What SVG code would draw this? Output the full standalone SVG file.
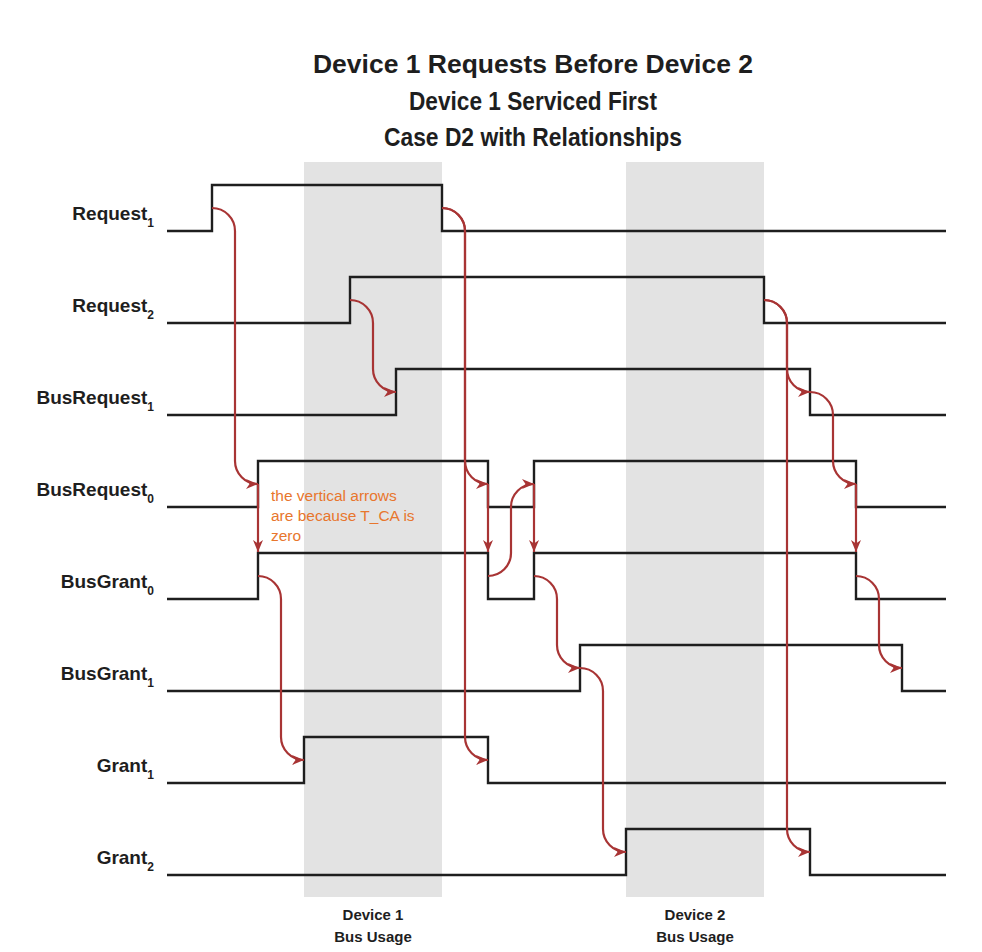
<svg xmlns="http://www.w3.org/2000/svg" width="982" height="952" viewBox="0 0 982 952">
  <defs>
    <marker id="ah" markerUnits="userSpaceOnUse" markerWidth="13" markerHeight="11" refX="12" refY="5" orient="auto">
      <path d="M0,0 L12,5 L0,10 L3.5,5 Z" fill="#a83434"/>
    </marker>
    <style>
      .shade { fill: #e3e3e3; }
      .sig { fill: none; stroke: #1e1e1e; stroke-width: 2.4; stroke-linejoin: miter; }
      .arr { fill: none; stroke: #a83434; stroke-width: 2.2; marker-end: url(#ah); }
      .title { font-family: "Liberation Sans", Arial, sans-serif; font-weight: bold; font-size: 26px; fill: #1e1e1e; text-anchor: middle; }
      .lbl { font-family: "Liberation Sans", Arial, sans-serif; font-weight: bold; font-size: 19px; fill: #1e1e1e; text-anchor: end; }
      .sub { font-size: 12px; }
      .usage { font-family: "Liberation Sans", Arial, sans-serif; font-weight: bold; font-size: 15px; fill: #1e1e1e; text-anchor: middle; }
      .note { font-family: "Liberation Sans", Arial, sans-serif; font-size: 15.5px; fill: #e8762d; }
    </style>
  </defs>

  <rect width="982" height="952" fill="#ffffff"/>

  <g id="title">
    <text class="title" x="533" y="73" textLength="440" lengthAdjust="spacingAndGlyphs">Device 1 Requests Before Device 2</text>
    <text class="title" x="533" y="110" textLength="248" lengthAdjust="spacingAndGlyphs">Device 1 Serviced First</text>
    <text class="title" x="533" y="146" textLength="298" lengthAdjust="spacingAndGlyphs">Case D2 with Relationships</text>
  </g>

  <g id="bus-usage">
    <rect class="shade" x="304" y="162" width="138" height="735"/>
    <rect class="shade" x="626" y="162" width="138" height="735"/>
    <text class="usage" x="373" y="920">Device 1</text>
    <text class="usage" x="373" y="942">Bus Usage</text>
    <text class="usage" x="695" y="920">Device 2</text>
    <text class="usage" x="695" y="942">Bus Usage</text>
  </g>

  <g id="request1">
    <text class="lbl" x="154" y="220">Request<tspan class="sub" dy="7">1</tspan></text>
    <path class="sig" d="M167,231 H212 V185 H442 V231 H946"/>
  </g>
  <g id="request2">
    <text class="lbl" x="154" y="312">Request<tspan class="sub" dy="7">2</tspan></text>
    <path class="sig" d="M167,323 H350 V277 H764 V323 H946"/>
  </g>
  <g id="busrequest1">
    <text class="lbl" x="154" y="404">BusRequest<tspan class="sub" dy="7">1</tspan></text>
    <path class="sig" d="M167,415 H396 V369 H810 V415 H946"/>
  </g>
  <g id="busrequest0">
    <text class="lbl" x="154" y="496">BusRequest<tspan class="sub" dy="7">0</tspan></text>
    <path class="sig" d="M167,507 H258 V461 H488 V507 H534 V461 H856 V507 H946"/>
  </g>
  <g id="busgrant0">
    <text class="lbl" x="154" y="588">BusGrant<tspan class="sub" dy="7">0</tspan></text>
    <path class="sig" d="M167,599 H258 V553 H488 V599 H534 V553 H856 V599 H946"/>
  </g>
  <g id="busgrant1">
    <text class="lbl" x="154" y="680">BusGrant<tspan class="sub" dy="7">1</tspan></text>
    <path class="sig" d="M167,691 H580 V645 H902 V691 H946"/>
  </g>
  <g id="grant1">
    <text class="lbl" x="154" y="772">Grant<tspan class="sub" dy="7">1</tspan></text>
    <path class="sig" d="M167,783 H304 V737 H488 V783 H946"/>
  </g>
  <g id="grant2">
    <text class="lbl" x="154" y="864">Grant<tspan class="sub" dy="7">2</tspan></text>
    <path class="sig" d="M167,875 H626 V829 H810 V875 H946"/>
  </g>

  <g id="connectors">
    <path class="arr" d="M212,208 A23,23 0 0 1 235,231 V461 A23,23 0 0 0 258,484"/>
    <path class="arr" d="M442,208 A23,23 0 0 1 465,231 V461 A23,23 0 0 0 488,484"/>
    <path class="arr" d="M442,208 A23,23 0 0 1 465,231 V737 A23,23 0 0 0 488,760"/>
    <path class="arr" d="M350,300 A23,23 0 0 1 373,323 V369 A23,23 0 0 0 396,392"/>
    <path class="arr" d="M764,300 A23,23 0 0 1 787,323 V369 A23,23 0 0 0 810,392"/>
    <path class="arr" d="M764,300 A23,23 0 0 1 787,323 V829 A23,23 0 0 0 810,852"/>
    <path class="arr" d="M810,392 A23,23 0 0 1 833,415 V461 A23,23 0 0 0 856,484"/>
    <path class="arr" d="M856,484 V552"/>
    <path class="arr" d="M856,576 A23,23 0 0 1 879,599 V645 A23,23 0 0 0 902,668"/>
    <path class="arr" d="M258,484 V552"/>
    <path class="arr" d="M258,576 A23,23 0 0 1 281,599 V737 A23,23 0 0 0 304,760"/>
    <path class="arr" d="M488,484 V552"/>
    <path class="arr" d="M488,576 A23,23 0 0 0 511,553 V507 A23,23 0 0 1 534,484"/>
    <path class="arr" d="M534,484 V552"/>
    <path class="arr" d="M534,576 A23,23 0 0 1 557,599 V645 A23,23 0 0 0 580,668"/>
    <path class="arr" d="M580,668 A23,23 0 0 1 603,691 V829 A23,23 0 0 0 626,852"/>
  </g>

  <g id="note">
    <text class="note" x="271" y="501">the vertical arrows</text>
    <text class="note" x="271" y="521">are because T_CA is</text>
    <text class="note" x="271" y="541">zero</text>
  </g>
</svg>
